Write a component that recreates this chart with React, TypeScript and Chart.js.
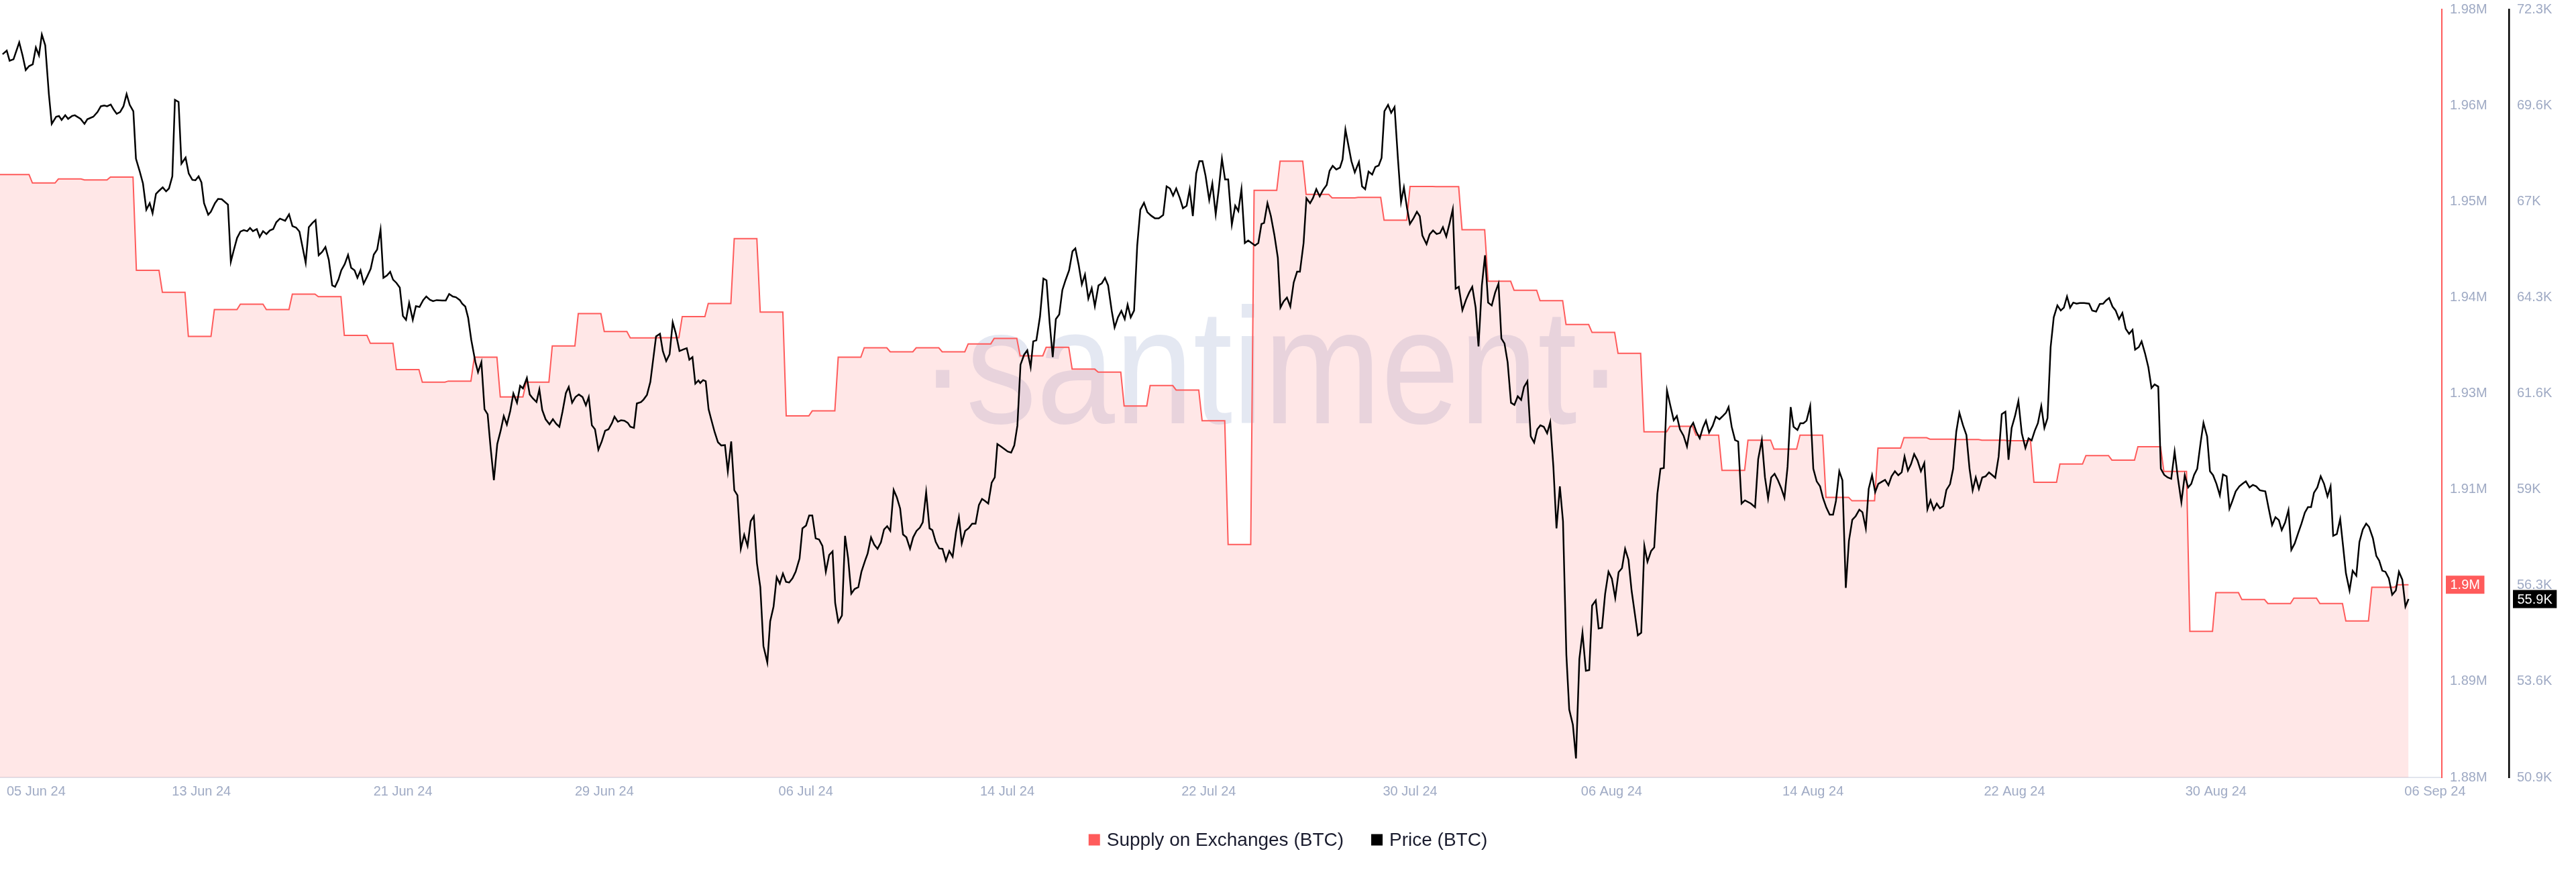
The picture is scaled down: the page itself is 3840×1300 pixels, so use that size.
import React, { useEffect, useRef } from "react";
import { Chart, registerables } from "chart.js";

Chart.register(...registerables);

const FONT = '"Liberation Sans", Arial, sans-serif';

// X axis (days from the left edge of the plot)
const xTickLabels = [
  "05 Jun 24", "13 Jun 24", "21 Jun 24", "29 Jun 24", "06 Jul 24", "14 Jul 24", "22 Jul 24",
  "30 Jul 24", "06 Aug 24", "14 Aug 24", "22 Aug 24", "30 Aug 24", "06 Sep 24",
];
const xTickDays = [1.39, 7.75, 15.5, 23.25, 31, 38.75, 46.5, 54.25, 62, 69.75, 77.5, 85.25, 93.68];
const xMaxDay = 93.94;

// Y axes
const supplyTickLabels = ["1.88M", "1.89M", "1.9M", "1.91M", "1.93M", "1.94M", "1.95M", "1.96M", "1.98M"];
const priceTickLabels = ["50.9K", "53.6K", "56.3K", "59K", "61.6K", "64.3K", "67K", "69.6K", "72.3K"];
const supplyMin = 1.8815;
const supplyMax = 1.9807;
const priceMin = 50.9;
const priceMax = 72.3;

// Supply on Exchanges (BTC, millions), one value per day
const supplyDaily = [
  1.95937, 1.95828, 1.9588, 1.95867, 1.95905, 1.94699, 1.94417, 1.93846, 1.94193, 1.94263,
  1.94193, 1.94392, 1.94359, 1.93859, 1.93757, 1.93417, 1.93256, 1.93269, 1.93577, 1.93064,
  1.93256, 1.93724, 1.94141, 1.9391, 1.93827, 1.9383, 1.94103, 1.9427, 1.9511, 1.94161,
  1.9282, 1.92884, 1.93577, 1.93699, 1.93648, 1.93699, 1.93648, 1.9375, 1.93821, 1.93596,
  1.93705, 1.93423, 1.93385, 1.92948, 1.93211, 1.93154, 1.92756, 1.91159, 1.95732, 1.9611,
  1.95681, 1.95636, 1.95642, 1.95347, 1.95783, 1.9578, 1.95225, 1.94558, 1.94443, 1.94308,
  1.94, 1.93898, 1.93628, 1.92615, 1.92685, 1.9257, 1.92115, 1.92506, 1.9239, 1.9257,
  1.91768, 1.91723, 1.92403, 1.92538, 1.92519, 1.92515, 1.92506, 1.925, 1.91961, 1.92198,
  1.92307, 1.92249, 1.92422, 1.92102, 1.90036, 1.90537, 1.90447, 1.90396, 1.90466, 1.90396,
  1.90171, 1.90607, 1.90639,
];
const supplyDayStart = 0.247; // fraction of the day at which a new daily value is reached
const supplyDayEnd = 0.117; // fraction of the next day at which the value starts to change

// Price (BTC, thousands USD)
const priceDays = [
  0.1, 0.26, 0.37, 0.52, 0.74, 0.87, 0.99, 1.12, 1.26, 1.38, 1.5, 1.61, 1.74, 1.88, 1.99, 2.16, 2.27, 2.37, 2.51, 2.62,
  2.77, 2.88, 3.1, 3.25, 3.36, 3.59, 3.75, 3.88, 4.01, 4.12, 4.26, 4.38, 4.49, 4.62, 4.75, 4.87, 4.99, 5.13, 5.23, 5.37,
  5.5, 5.63, 5.76, 5.87, 6.0, 6.11, 6.26, 6.39, 6.5, 6.63, 6.73, 6.87, 6.98, 7.14, 7.26, 7.4, 7.52, 7.64, 7.75, 7.85,
  8.01, 8.11, 8.27, 8.39, 8.53, 8.77, 8.88, 8.99, 9.12, 9.25, 9.38, 9.51, 9.62, 9.73, 9.88, 9.99, 10.12, 10.25, 10.38, 10.51,
  10.63, 10.77, 10.97, 11.12, 11.25, 11.39, 11.52, 11.76, 11.88, 12.02, 12.14, 12.26, 12.39, 12.52, 12.65, 12.78, 12.89, 13.02, 13.13, 13.26,
  13.39, 13.51, 13.64, 13.75, 13.87, 13.99, 14.12, 14.26, 14.38, 14.51, 14.64, 14.75, 14.89, 15.01, 15.12, 15.25, 15.38, 15.5, 15.62, 15.74,
  15.88, 16.0, 16.14, 16.28, 16.4, 16.54, 16.66, 16.8, 17.01, 17.15, 17.28, 17.42, 17.54, 17.69, 17.78, 17.9, 18.01, 18.13, 18.29, 18.39,
  18.52, 18.64, 18.76, 18.87, 19.0, 19.13, 19.26, 19.38, 19.5, 19.63, 19.75, 19.89, 20.01, 20.12, 20.27, 20.38, 20.5, 20.64, 20.75, 20.86,
  20.99, 21.14, 21.27, 21.4, 21.52, 21.64, 21.77, 21.88, 22.01, 22.14, 22.27, 22.41, 22.54, 22.65, 22.77, 22.89, 23.02, 23.15, 23.28, 23.41,
  23.54, 23.64, 23.77, 23.89, 24.02, 24.15, 24.25, 24.39, 24.5, 24.66, 24.76, 24.89, 25.02, 25.24, 25.39, 25.5, 25.63, 25.76, 25.88, 26.0,
  26.14, 26.31, 26.42, 26.52, 26.64, 26.75, 26.87, 26.94, 27.05, 27.15, 27.26, 27.36, 27.49, 27.62, 27.75, 27.89, 28.0, 28.13, 28.25, 28.37,
  28.5, 28.63, 28.76, 28.88, 29.0, 29.12, 29.25, 29.37, 29.52, 29.63, 29.76, 29.88, 30.0, 30.12, 30.24, 30.36, 30.49, 30.61, 30.76, 30.87,
  31.01, 31.13, 31.25, 31.38, 31.51, 31.64, 31.77, 31.9, 32.03, 32.13, 32.25, 32.39, 32.51, 32.63, 32.75, 32.88, 33.02, 33.14, 33.28, 33.38,
  33.51, 33.63, 33.76, 33.89, 34.01, 34.13, 34.25, 34.38, 34.5, 34.63, 34.74, 34.87, 35.01, 35.13, 35.26, 35.39, 35.5, 35.63, 35.76, 35.87,
  36.0, 36.13, 36.26, 36.39, 36.52, 36.65, 36.78, 36.89, 37.0, 37.13, 37.26, 37.4, 37.53, 37.66, 37.78, 37.9, 38.02, 38.15, 38.27, 38.37,
  38.51, 38.66, 38.77, 38.9, 39.02, 39.14, 39.26, 39.4, 39.52, 39.65, 39.75, 39.87, 40.01, 40.14, 40.26, 40.38, 40.5, 40.62, 40.75, 40.87,
  40.99, 41.13, 41.26, 41.37, 41.5, 41.62, 41.74, 41.87, 42.0, 42.12, 42.26, 42.39, 42.51, 42.63, 42.77, 42.88, 43.01, 43.14, 43.27, 43.38,
  43.5, 43.63, 43.75, 43.87, 44.01, 44.14, 44.29, 44.43, 44.58, 44.75, 44.88, 45.01, 45.13, 45.25, 45.39, 45.51, 45.65, 45.77, 45.89, 46.02,
  46.14, 46.26, 46.38, 46.52, 46.64, 46.77, 46.89, 47.01, 47.13, 47.25, 47.39, 47.52, 47.64, 47.76, 47.89, 48.02, 48.15, 48.28, 48.41, 48.53,
  48.63, 48.76, 48.89, 49.03, 49.16, 49.26, 49.38, 49.51, 49.64, 49.77, 49.9, 50.01, 50.15, 50.26, 50.4, 50.51, 50.64, 50.77, 50.9, 51.04,
  51.15, 51.27, 51.41, 51.55, 51.65, 51.76, 51.88, 51.99, 52.12, 52.28, 52.4, 52.52, 52.65, 52.79, 52.91, 53.04, 53.15, 53.26, 53.4, 53.52,
  53.65, 53.78, 53.9, 54.01, 54.13, 54.24, 54.38, 54.51, 54.62, 54.72, 54.88, 55.0, 55.13, 55.27, 55.4, 55.51, 55.64, 55.77, 55.89, 56.0,
  56.12, 56.26, 56.4, 56.52, 56.64, 56.77, 56.88, 57.01, 57.13, 57.25, 57.39, 57.52, 57.65, 57.76, 57.88, 58.0, 58.13, 58.26, 58.39, 58.52,
  58.63, 58.76, 58.89, 59.02, 59.14, 59.26, 59.39, 59.52, 59.64, 59.76, 59.88, 60.01, 60.13, 60.26, 60.37, 60.51, 60.63, 60.76, 60.88, 61.01,
  61.14, 61.25, 61.39, 61.5, 61.63, 61.75, 61.88, 62.01, 62.14, 62.27, 62.4, 62.52, 62.65, 62.77, 62.89, 63.01, 63.14, 63.26, 63.38, 63.52,
  63.64, 63.76, 63.88, 64.01, 64.13, 64.25, 64.39, 64.51, 64.63, 64.77, 64.9, 65.02, 65.14, 65.26, 65.39, 65.51, 65.63, 65.75, 65.89, 66.01,
  66.15, 66.28, 66.4, 66.5, 66.62, 66.75, 66.87, 67.0, 67.13, 67.36, 67.52, 67.64, 67.78, 67.9, 68.02, 68.14, 68.27, 68.4, 68.52, 68.65,
  68.77, 68.89, 69.0, 69.15, 69.26, 69.38, 69.5, 69.64, 69.76, 69.89, 70.02, 70.13, 70.26, 70.39, 70.52, 70.63, 70.76, 70.88, 71.01, 71.13,
  71.26, 71.39, 71.53, 71.65, 71.78, 71.89, 72.02, 72.14, 72.26, 72.42, 72.52, 72.65, 72.77, 72.9, 73.03, 73.16, 73.27, 73.4, 73.52, 73.64,
  73.77, 73.9, 74.03, 74.15, 74.27, 74.39, 74.51, 74.63, 74.76, 74.88, 75.02, 75.14, 75.26, 75.38, 75.52, 75.65, 75.77, 75.89, 76.01, 76.13,
  76.26, 76.39, 76.52, 76.65, 76.76, 76.89, 77.01, 77.15, 77.27, 77.39, 77.52, 77.65, 77.78, 77.92, 78.04, 78.16, 78.28, 78.4, 78.53, 78.65,
  78.77, 78.89, 79.01, 79.15, 79.28, 79.4, 79.52, 79.64, 79.76, 79.89, 80.01, 80.18, 80.37, 80.49, 80.64, 80.78, 80.91, 81.02, 81.14, 81.27,
  81.39, 81.52, 81.65, 81.78, 81.91, 82.04, 82.14, 82.28, 82.39, 82.52, 82.65, 82.77, 82.89, 83.03, 83.13, 83.26, 83.39, 83.53, 83.66, 83.79,
  83.92, 84.05, 84.18, 84.3, 84.41, 84.53, 84.66, 84.77, 84.91, 85.02, 85.14, 85.27, 85.4, 85.52, 85.66, 85.77, 85.88, 86.01, 86.15, 86.27,
  86.4, 86.54, 86.67, 86.8, 86.94, 87.15, 87.28, 87.41, 87.54, 87.67, 87.78, 87.91, 88.04, 88.15, 88.28, 88.41, 88.54, 88.67, 88.79, 88.91,
  89.02, 89.15, 89.28, 89.41, 89.54, 89.66, 89.76, 89.9, 90.03, 90.14, 90.25, 90.39, 90.51, 90.65, 90.77, 90.9, 91.03, 91.14, 91.29, 91.42,
  91.53, 91.65, 91.77, 91.9, 92.03, 92.17, 92.29, 92.42, 92.54, 92.66,
];
const priceK = [
  71.05, 71.15, 70.87, 70.91, 71.38, 71.01, 70.61, 70.72, 70.77, 71.24, 71.02, 71.6, 71.3, 69.94, 69.11, 69.31, 69.33, 69.22, 69.35, 69.25,
  69.33, 69.35, 69.25, 69.11, 69.24, 69.31, 69.44, 69.6, 69.62, 69.6, 69.65, 69.5, 69.39, 69.44, 69.6, 69.94, 69.64, 69.46, 68.14, 67.8,
  67.45, 66.72, 66.9, 66.62, 67.16, 67.24, 67.34, 67.23, 67.31, 67.65, 69.78, 69.72, 68.0, 68.17, 67.73, 67.55, 67.54, 67.65, 67.48, 66.9,
  66.58, 66.66, 66.9, 67.02, 67.01, 66.86, 65.27, 65.58, 65.93, 66.11, 66.15, 66.12, 66.21, 66.12, 66.18, 65.96, 66.12, 66.04, 66.14, 66.18,
  66.37, 66.47, 66.41, 66.59, 66.26, 66.22, 66.11, 65.24, 66.23, 66.35, 66.43, 65.45, 65.54, 65.68, 65.32, 64.61, 64.57, 64.77, 65.03, 65.2,
  65.46, 65.1, 65.03, 64.82, 65.03, 64.66, 64.85, 65.07, 65.47, 65.61, 66.16, 64.82, 64.89, 64.99, 64.77, 64.68, 64.55, 63.76, 63.65, 64.12,
  63.65, 64.03, 64.01, 64.2, 64.3, 64.21, 64.17, 64.2, 64.19, 64.19, 64.37, 64.3, 64.28, 64.2, 64.1, 64.02, 63.71, 63.09, 62.47, 62.19,
  62.47, 61.16, 61.02, 60.12, 59.18, 60.19, 60.56, 60.97, 60.73, 61.11, 61.6, 61.34, 61.81, 61.74, 62.03, 61.57, 61.46, 61.36, 61.71, 61.14,
  60.88, 60.74, 60.88, 60.75, 60.67, 61.09, 61.61, 61.78, 61.34, 61.5, 61.57, 61.5, 61.27, 61.5, 60.71, 60.6, 60.03, 60.26, 60.56, 60.6,
  60.77, 60.95, 60.81, 60.85, 60.84, 60.78, 60.67, 60.64, 61.32, 61.36, 61.43, 61.56, 61.92, 63.19, 63.26, 62.78, 62.5, 62.69, 63.58, 63.27,
  62.78, 62.83, 62.86, 62.54, 62.61, 61.87, 61.96, 61.89, 61.97, 61.94, 61.16, 60.88, 60.53, 60.24, 60.15, 60.16, 59.43, 60.26, 58.9, 58.76,
  57.27, 57.66, 57.35, 58.04, 58.18, 56.87, 56.2, 54.56, 54.1, 55.25, 55.66, 56.48, 56.3, 56.58, 56.35, 56.33, 56.45, 56.63, 57.0, 57.84,
  57.92, 58.2, 58.2, 57.56, 57.53, 57.35, 56.63, 57.1, 57.2, 55.76, 55.23, 55.41, 57.63, 57.0, 56.02, 56.15, 56.2, 56.63, 56.94, 57.14,
  57.59, 57.39, 57.27, 57.45, 57.81, 57.9, 57.77, 58.91, 58.71, 58.39, 57.67, 57.59, 57.27, 57.59, 57.77, 57.86, 58.01, 58.85, 57.84, 57.79,
  57.46, 57.28, 57.27, 56.94, 57.21, 57.05, 57.74, 58.15, 57.42, 57.77, 57.84, 57.97, 57.97, 58.49, 58.66, 58.6, 58.53, 59.11, 59.26, 60.19,
  60.12, 60.04, 59.98, 59.95, 60.15, 60.7, 62.4, 62.68, 62.8, 62.33, 63.05, 63.08, 63.74, 64.8, 64.75, 63.58, 62.61, 63.67, 63.8, 64.48,
  64.75, 65.03, 65.56, 65.64, 65.17, 64.64, 64.91, 64.24, 64.53, 64.03, 64.61, 64.67, 64.82, 64.61, 63.9, 63.44, 63.72, 63.9, 63.67, 64.07,
  63.72, 63.91, 65.72, 66.72, 66.91, 66.65, 66.55, 66.48, 66.48, 66.57, 67.37, 67.31, 67.11, 67.31, 67.04, 66.76, 66.83, 67.29, 66.54, 67.73,
  68.07, 68.07, 67.66, 66.99, 67.45, 66.59, 67.31, 68.14, 67.56, 67.56, 66.3, 66.83, 66.68, 67.29, 65.79, 65.86, 65.79, 65.72, 65.79, 66.32,
  66.35, 66.9, 66.55, 66.0, 65.38, 63.99, 64.16, 64.27, 64.02, 64.69, 64.99, 64.99, 65.79, 67.04, 66.9, 67.04, 67.29, 67.09, 67.27, 67.41,
  67.8, 67.94, 67.84, 67.89, 68.12, 68.95, 68.49, 68.07, 67.76, 68.05, 67.37, 67.29, 67.78, 67.7, 67.91, 67.95, 68.16, 69.46, 69.64, 69.42,
  69.58, 68.14, 66.93, 67.34, 66.76, 66.32, 66.48, 66.66, 66.54, 66.0, 65.76, 66.03, 66.14, 66.04, 66.07, 66.23, 65.97, 66.35, 66.73, 64.52,
  64.57, 63.92, 64.21, 64.41, 64.57, 63.99, 62.91, 64.61, 65.45, 64.13, 64.05, 64.41, 64.66, 63.13, 62.99, 62.47, 61.34, 61.28, 61.52, 61.42,
  61.78, 61.94, 60.4, 60.23, 60.6, 60.71, 60.67, 60.49, 60.8, 59.56, 57.84, 59.01, 58.04, 54.31, 52.79, 52.37, 51.43, 54.2, 54.93, 53.87,
  53.89, 55.69, 55.83, 55.05, 55.07, 56.01, 56.63, 56.44, 55.9, 56.62, 56.73, 57.27, 56.96, 56.1, 55.48, 54.86, 54.93, 57.35, 56.91, 57.21,
  57.31, 58.8, 59.5, 59.52, 61.68, 61.29, 60.85, 60.97, 60.6, 60.42, 60.12, 60.64, 60.78, 60.53, 60.35, 60.64, 60.84, 60.51, 60.7, 60.95,
  60.88, 60.97, 61.06, 61.22, 60.67, 60.3, 60.26, 58.53, 58.62, 58.53, 58.43, 59.77, 60.3, 59.26, 58.67, 59.26, 59.36, 59.18, 58.97, 58.69,
  59.56, 61.22, 60.67, 60.58, 60.77, 60.77, 60.84, 61.25, 59.5, 59.15, 59.01, 58.69, 58.42, 58.22, 58.22, 58.6, 59.43, 59.18, 56.18, 57.49,
  58.08, 58.18, 58.36, 58.29, 57.84, 58.94, 59.32, 58.85, 59.08, 59.15, 59.19, 59.04, 59.29, 59.43, 59.32, 59.4, 59.84, 59.45, 59.63, 59.91,
  59.73, 59.43, 59.66, 58.37, 58.62, 58.36, 58.53, 58.4, 58.46, 58.91, 59.07, 59.5, 60.53, 61.06, 60.71, 60.44, 59.5, 58.9, 59.26, 58.94,
  59.26, 59.29, 59.4, 59.32, 59.25, 59.84, 61.02, 61.09, 59.75, 60.64, 60.97, 61.39, 60.49, 60.08, 60.35, 60.29, 60.56, 60.77, 61.25, 60.64,
  60.91, 62.89, 63.72, 64.05, 63.91, 63.99, 64.3, 63.99, 64.13, 64.1, 64.12, 64.12, 64.1, 63.91, 63.88, 64.09, 64.1, 64.19, 64.26, 64.02,
  63.91, 63.67, 63.84, 63.4, 63.26, 63.37, 62.82, 62.89, 63.05, 62.72, 62.33, 61.75, 61.85, 61.79, 59.5, 59.33, 59.26, 59.22, 59.98, 59.22,
  58.57, 59.32, 58.98, 59.08, 59.33, 59.5, 60.23, 60.78, 60.4, 59.43, 59.32, 59.08, 58.76, 59.34, 59.29, 58.39, 58.6, 58.87, 59.01, 59.08,
  59.15, 58.98, 59.05, 59.01, 58.9, 58.87, 58.39, 57.93, 58.15, 58.07, 57.79, 58.0, 58.35, 57.24, 57.42, 57.7, 57.97, 58.28, 58.43, 58.43,
  58.83, 58.98, 59.29, 59.08, 58.73, 59.01, 57.63, 57.68, 58.1, 57.35, 56.59, 56.11, 56.66, 56.52, 57.46, 57.81, 57.97, 57.88, 57.56, 57.07,
  56.94, 56.66, 56.63, 56.45, 55.99, 56.11, 56.63, 56.41, 55.66, 55.87,
];

const legendItems = [
  { label: "Supply on Exchanges (BTC)", color: "#ff5b5b" },
  { label: "Price (BTC)", color: "#000000" },
];

const SUPPLY_COLOR = "#ff5b5b";
const TICK_COLOR = "#9faac4";

function buildSupplyPoints() {
  const lastDay = priceDays[priceDays.length - 1];
  const pts: { x: number; y: number }[] = [];
  supplyDaily.forEach((v, k) => {
    const start = k === 0 ? 0 : k + supplyDayStart;
    const end = Math.min(k + 1 + supplyDayEnd, lastDay);
    pts.push({ x: start, y: v });
    pts.push({ x: end, y: v });
  });
  return pts;
}

const watermarkPlugin = {
  id: "watermark",
  beforeDatasetsDraw(chart: any) {
    const ctx = chart.ctx;
    ctx.save();
    ctx.font = `400 245px ${FONT}`;
    ctx.fillStyle = "#e4e8f2";
    ctx.textBaseline = "alphabetic";
    ctx.textAlign = "left";
    const text = "·santiment·";
    const m = ctx.measureText(text);
    const ink = m.actualBoundingBoxLeft + m.actualBoundingBoxRight;
    const sx = 1001 / ink;
    ctx.translate(1395, 631);
    ctx.scale(sx, 1);
    ctx.fillText(text, m.actualBoundingBoxLeft, 0);
    ctx.restore();
  },
};

function drawBadge(ctx: CanvasRenderingContext2D, x: number, y: number, text: string, bg: string) {
  ctx.save();
  ctx.font = `20px ${FONT}`;
  const w = ctx.measureText(text).width + 13;
  const h = 27;
  ctx.fillStyle = bg;
  ctx.fillRect(x, y - h / 2, w, h);
  ctx.fillStyle = "#ffffff";
  ctx.textBaseline = "middle";
  ctx.textAlign = "left";
  ctx.fillText(text, x + 6.5, y + 1);
  ctx.restore();
}

const overlayPlugin = {
  id: "overlay",
  afterDraw(chart: any) {
    const ctx: CanvasRenderingContext2D = chart.ctx;
    const ys = chart.scales.ySupply;
    const yp = chart.scales.yPrice;
    const lastS = supplyDaily[supplyDaily.length - 1];
    const lastP = priceK[priceK.length - 1];
    drawBadge(ctx, ys.left + 6, ys.getPixelForValue(lastS), lastS.toFixed(1) + "M", SUPPLY_COLOR);
    drawBadge(ctx, yp.left + 6, yp.getPixelForValue(lastP), lastP.toFixed(1) + "K", "#000000");

    // legend
    ctx.save();
    ctx.font = `28px ${FONT}`;
    ctx.textBaseline = "middle";
    ctx.textAlign = "left";
    const box = 17;
    const gap = 10;
    const itemGap = 41;
    const widths = legendItems.map((it) => box + gap + ctx.measureText(it.label).width);
    const total = widths.reduce((a, b) => a + b, 0) + itemGap * (legendItems.length - 1);
    let x = chart.width / 2 - total / 2;
    const y = 1252;
    legendItems.forEach((it, i) => {
      ctx.fillStyle = it.color;
      ctx.fillRect(x, y - box / 2, box, box);
      ctx.fillStyle = "#1a1c2e";
      ctx.fillText(it.label, x + box + gap, y + 1);
      x += widths[i] + itemGap;
    });
    ctx.restore();
  },
};

export default function App() {
  const ref = useRef<HTMLCanvasElement>(null);

  useEffect(() => {
    const canvas = ref.current;
    if (!canvas) return;
    const pricePoints = priceDays.map((d, i) => ({ x: d, y: priceK[i] }));
    const supplyPoints = buildSupplyPoints();

    const chart = new Chart(canvas, {
      type: "line",
      data: {
        datasets: [
          {
            label: "Price (BTC)",
            data: pricePoints,
            yAxisID: "yPrice",
            borderColor: "#000000",
            borderWidth: 2.5,
            pointRadius: 0,
            tension: 0,
            fill: false,
            order: 0,
          },
          {
            label: "Supply on Exchanges (BTC)",
            data: supplyPoints,
            yAxisID: "ySupply",
            borderColor: SUPPLY_COLOR,
            borderWidth: 2,
            backgroundColor: "rgba(255,91,91,0.15)",
            pointRadius: 0,
            tension: 0,
            fill: "start",
            order: 1,
          },
        ],
      },
      options: {
        responsive: false,
        maintainAspectRatio: false,
        animation: false,
        devicePixelRatio: 1,
        layout: { padding: { top: 14, left: 0, right: 0, bottom: 0 } },
        plugins: {
          legend: { display: false },
          tooltip: { enabled: false },
        },
        scales: {
          x: {
            type: "linear",
            min: 0,
            max: xMaxDay,
            afterBuildTicks: (s: any) => {
              s.ticks = xTickDays.map((v) => ({ value: v }));
            },
            afterFit: (s: any) => {
              s.height = 141;
              s.paddingLeft = 0;
              s.paddingRight = 0;
            },
            ticks: {
              autoSkip: false,
              maxRotation: 0,
              minRotation: 0,
              padding: 9,
              color: TICK_COLOR,
              font: { family: FONT, size: 20 },
              callback: (_v: any, i: number) => xTickLabels[i],
            },
            grid: { display: false, drawTicks: false },
            border: { display: true, color: "#e1e5ee", width: 2 },
          },
          ySupply: {
            type: "linear",
            position: "right",
            weight: 0,
            min: supplyMin,
            max: supplyMax,
            afterBuildTicks: (s: any) => {
              const n = supplyTickLabels.length - 1;
              s.ticks = supplyTickLabels.map((_, i) => ({ value: supplyMin + (i * (supplyMax - supplyMin)) / n }));
            },
            afterFit: (s: any) => {
              s.width = 100;
              s.paddingTop = 0;
              s.paddingBottom = 0;
            },
            ticks: {
              padding: 12,
              color: TICK_COLOR,
              font: { family: FONT, size: 20 },
              callback: (_v: any, i: number) => supplyTickLabels[i],
            },
            grid: { display: false, drawTicks: false },
            border: { display: true, color: SUPPLY_COLOR, width: 2 },
          },
          yPrice: {
            type: "linear",
            position: "right",
            weight: 1,
            min: priceMin,
            max: priceMax,
            afterBuildTicks: (s: any) => {
              const n = priceTickLabels.length - 1;
              s.ticks = priceTickLabels.map((_, i) => ({ value: priceMin + (i * (priceMax - priceMin)) / n }));
            },
            afterFit: (s: any) => {
              s.width = 100;
              s.paddingTop = 0;
              s.paddingBottom = 0;
            },
            ticks: {
              padding: 12,
              color: TICK_COLOR,
              font: { family: FONT, size: 20 },
              callback: (_v: any, i: number) => priceTickLabels[i],
            },
            grid: { display: false, drawTicks: false },
            border: { display: true, color: "#000000", width: 2.5 },
          },
        },
      } as any,
      plugins: [watermarkPlugin, overlayPlugin],
    });
    return () => chart.destroy();
  }, []);

  return (
    <div style={{ position: "absolute", left: 0, top: 0, width: 3840, height: 1300, background: "#ffffff" }}>
      <canvas ref={ref} width={3840} height={1300} style={{ display: "block", width: 3840, height: 1300 }} />
    </div>
  );
}
